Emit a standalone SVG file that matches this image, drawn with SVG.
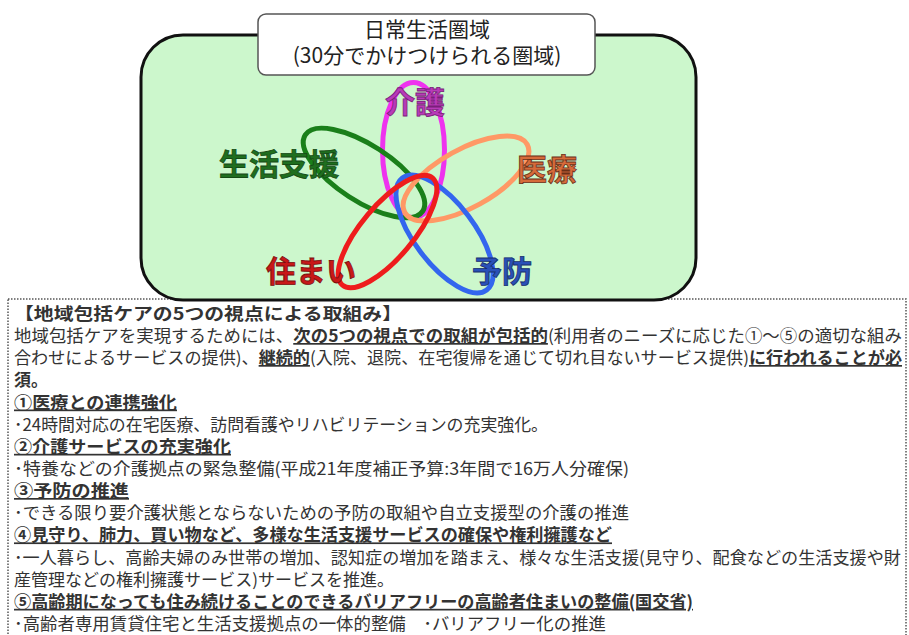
<svg xmlns="http://www.w3.org/2000/svg" width="909" height="635" viewBox="0 0 909 635">
<style>
.jp{font-family:"Noto Sans CJK JP","Noto Sans",sans-serif}
.title{font-size:21px;fill:#222;text-anchor:middle}
.lbl{font-size:30px;font-weight:700;text-anchor:middle;stroke-width:0.8}
.ell{fill:none;stroke-width:5}
.body{font-size:17px;fill:#333}
.b{font-weight:700}
.u{text-decoration:underline}
</style>
<rect width="909" height="635" fill="#ffffff"/>
<g id="textbox">
<rect x="8" y="299" width="898" height="345" fill="#ffffff" stroke="#555" stroke-width="1.5" stroke-dasharray="1.5 1.5"/>
</g>
<g id="area">
<rect x="141" y="35" width="555" height="265" rx="42" ry="42" fill="#ccf7cc" stroke="#111" stroke-width="3"/>
</g>
<g id="title">
<rect x="258" y="14" width="337" height="61" rx="8" ry="8" fill="#ffffff" stroke="#555" stroke-width="1.5"/>
<text class="jp title" x="427" y="37">日常生活圏域</text>
<text class="jp title" x="427" y="63">(30分でかけつけられる圏域)</text>
</g>
<g id="connectors">
<ellipse id="e-kaigo" class="ell" cx="413.5" cy="150" rx="31" ry="67.5" stroke="#ee33ee"/>
<ellipse id="e-seikatsu" class="ell" cx="364" cy="173" rx="70" ry="28" transform="rotate(33 364 173)" stroke="#1a7f1a"/>
<ellipse id="e-iryo" class="ell" cx="466" cy="178.5" rx="70" ry="29" transform="rotate(-29 466 178.5)" stroke="#ff9966"/>
<ellipse id="e-yobo" class="ell" cx="444.5" cy="234" rx="70" ry="30" transform="rotate(53 444.5 234)" stroke="#3366ee"/>
<ellipse id="e-sumai" class="ell" cx="387.5" cy="231.5" rx="70" ry="26" transform="rotate(-50 387.5 231.5)" stroke="#ee1c1c"/>
</g>
<g id="kaigo"><text class="jp lbl" x="415" y="113" fill="#b83ab8" stroke="#7a1f7a">介護</text></g>
<g id="seikatsushien"><text class="jp lbl" x="279" y="175" fill="#1f6e1f" stroke="#144a14">生活支援</text></g>
<g id="iryo"><text class="jp lbl" x="547" y="180" fill="#d66a3a" stroke="#6a3018">医療</text></g>
<g id="sumai"><text class="jp lbl" x="311" y="282" fill="#c81818" stroke="#7a0e0e">住まい</text></g>
<g id="yobo"><text class="jp lbl" x="502" y="282" fill="#2a50b8" stroke="#18306e">予防</text></g>
<g id="body" class="jp body">
<text class="b" x="14" y="320" textLength="388" lengthAdjust="spacingAndGlyphs">【地域包括ケアの5つの視点による取組み】</text>
<text x="14" y="342" textLength="888" lengthAdjust="spacingAndGlyphs">地域包括ケアを実現するためには、<tspan class="b u">次の5つの視点での取組が包括的</tspan>(利用者のニーズに応じた①～⑤の適切な組み</text>
<text x="14" y="364" textLength="888" lengthAdjust="spacingAndGlyphs">合わせによるサービスの提供)、<tspan class="b u">継続的</tspan>(入院、退院、在宅復帰を通じて切れ目ないサービス提供)<tspan class="b u">に行われることが必</tspan></text>
<text class="b" x="14" y="386">須。</text>
<text class="b u" x="14" y="408.5" textLength="163" lengthAdjust="spacingAndGlyphs">①医療との連携強化</text>
<text x="14" y="430.5" textLength="534" lengthAdjust="spacingAndGlyphs">･24時間対応の在宅医療、訪問看護やリハビリテーションの充実強化。</text>
<text class="b u" x="14" y="452.8" textLength="217" lengthAdjust="spacingAndGlyphs">②介護サービスの充実強化</text>
<text x="14" y="475" textLength="615" lengthAdjust="spacingAndGlyphs">･特養などの介護拠点の緊急整備(平成21年度補正予算:3年間で16万人分確保)</text>
<text class="b u" x="14" y="497" textLength="115" lengthAdjust="spacingAndGlyphs">③予防の推進</text>
<text x="14" y="519" textLength="615" lengthAdjust="spacingAndGlyphs">･できる限り要介護状態とならないための予防の取組や自立支援型の介護の推進</text>
<text class="b u" x="14" y="541.4" textLength="598" lengthAdjust="spacingAndGlyphs">④見守り、肺力、買い物など、多様な生活支援サービスの確保や権利擁護など</text>
<text x="14" y="563.5" textLength="887" lengthAdjust="spacingAndGlyphs">･一人暮らし、高齢夫婦のみ世帯の増加、認知症の増加を踏まえ、様々な生活支援(見守り、配食などの生活支援や財</text>
<text x="14" y="585.7" textLength="380" lengthAdjust="spacingAndGlyphs">産管理などの権利擁護サービス)サービスを推進。</text>
<text class="b u" x="14" y="607.8" textLength="679" lengthAdjust="spacingAndGlyphs">⑤高齢期になっても住み続けることのできるバリアフリーの高齢者住まいの整備(国交省)</text>
<text x="14" y="630" textLength="592" lengthAdjust="spacingAndGlyphs">･高齢者専用賃貸住宅と生活支援拠点の一体的整備　･バリアフリー化の推進</text>
</g>
</svg>
